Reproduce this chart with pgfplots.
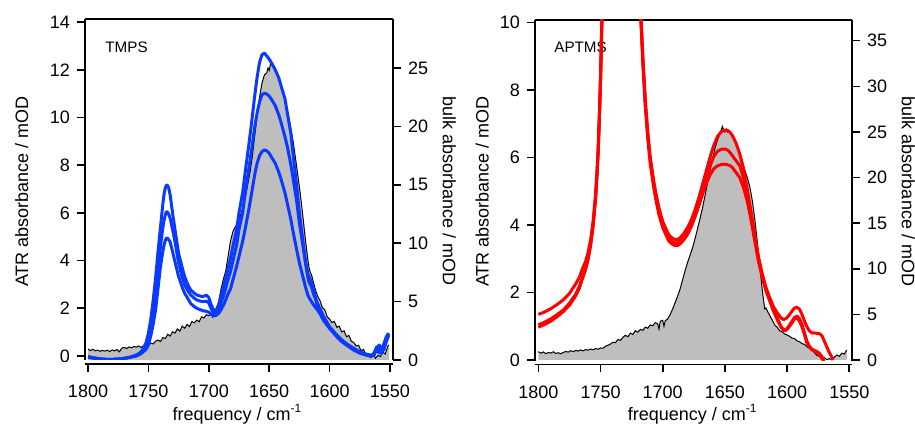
\documentclass[border=0pt]{standalone}
\usepackage{pgfplots}
\usepackage{pgfplotstable}
\pgfplotsset{compat=1.18}
\usepackage{fontspec}
\setmainfont{Liberation Sans}
\definecolor{tblue}{RGB}{10,58,255}
\definecolor{tred}{RGB}{255,0,0}
\definecolor{bulkgray}{RGB}{190,190,190}

% TMPS bulk spectrum (bulk absorbance / mOD)
\pgfplotstableread{
x y
1800 0.95
1798 0.80
1796 0.92
1794 0.78
1792 0.85
1790 0.74
1788 0.82
1786 0.76
1784 0.84
1782 0.72
1780 0.86
1778 0.78
1776 0.90
1774 0.70
1772 1.02
1770 1.08
1768 0.98
1766 1.12
1764 1.04
1762 1.16
1760 1.10
1758 1.20
1756 1.08
1754 1.22
1752 1.30
1750 1.26
1748 1.45
1746 1.38
1744 1.62
1742 1.70
1740 1.58
1738 1.92
1736 1.84
1734 2.20
1732 2.05
1730 2.42
1728 2.30
1726 2.66
1724 2.48
1722 2.90
1720 2.72
1718 3.05
1716 2.86
1714 3.30
1712 3.18
1710 3.42
1708 3.28
1706 3.70
1704 3.60
1702 3.88
1700 3.80
1698 3.95
1697 3.70
1696 4.10
1694 4.40
1692 4.90
1690 6.00
1688 6.90
1686 7.60
1684 8.90
1682 10.20
1680 11.00
1678 11.40
1676 11.80
1674 12.30
1672 13.00
1670 13.80
1668 14.90
1666 16.00
1664 17.40
1662 19.20
1660 20.90
1658 22.50
1656 23.70
1654 24.40
1652 24.60
1651 25.00
1650 24.80
1649 25.30
1648 25.50
1647 25.30
1646 25.20
1645 24.90
1644 24.60
1642 24.20
1640 23.50
1638 22.80
1636 21.90
1634 20.90
1632 19.80
1630 18.60
1628 17.10
1626 15.60
1624 14.00
1622 12.20
1620 10.30
1618 8.60
1617 7.90
1616 7.50
1615 7.30
1614 6.90
1612 6.10
1610 5.50
1608 5.10
1606 4.50
1604 4.30
1602 3.70
1600 3.50
1598 3.20
1596 3.30
1594 2.80
1592 2.90
1590 2.40
1588 2.50
1586 2.00
1584 2.10
1582 1.60
1580 1.50
1578 1.20
1576 1.25
1574 0.80
1572 0.90
1570 0.55
1568 0.40
1566 0.20
1564 0.50
1562 0.15
1560 0.40
1558 0.30
1556 0.70
1554 0.50
1552 1.10
1551 1.30
}\tmpsbulk

% TMPS ATR spectra (ATR absorbance / mOD)
\pgfplotstableread{
x b1 b2 b3
1800 -0.03 -0.03 -0.06
1795 -0.08 -0.08 -0.10
1790 -0.12 -0.12 -0.13
1785 -0.14 -0.14 -0.15
1780 -0.14 -0.14 -0.15
1775 -0.13 -0.13 -0.13
1770 -0.10 -0.10 -0.10
1765 -0.05 -0.05 -0.05
1760 0.04 0.02 0.00
1757 0.13 0.10 0.07
1755 0.25 0.18 0.14
1752 0.55 0.38 0.28
1750 0.95 0.67 0.46
1748 1.55 1.15 0.85
1746 2.35 1.80 1.35
1744 3.30 2.60 1.95
1742 4.40 3.55 2.85
1740 5.40 4.60 3.75
1738 6.40 5.40 4.40
1737 6.80 5.70 4.66
1736 7.05 5.92 4.85
1735 7.17 6.05 4.95
1734 7.15 6.02 4.93
1733 7.00 5.92 4.86
1732 6.75 5.78 4.78
1730 6.00 5.30 4.38
1728 5.30 4.80 3.95
1725 4.30 3.90 3.33
1722 3.70 3.30 2.88
1720 3.33 2.98 2.63
1717 2.95 2.70 2.38
1715 2.77 2.56 2.20
1712 2.63 2.42 2.07
1710 2.56 2.35 2.00
1707 2.51 2.30 1.94
1705 2.49 2.28 1.90
1702 2.55 2.30 1.87
1700 2.45 2.22 1.84
1698 2.14 1.98 1.75
1696 1.93 1.80 1.68
1694 1.90 1.80 1.70
1692 2.10 1.95 1.78
1690 2.50 2.20 1.93
1687 3.05 2.65 2.22
1685 3.47 3.05 2.49
1682 4.10 3.55 2.82
1680 4.60 4.00 3.19
1677 5.30 4.65 3.75
1675 6.00 5.30 4.17
1672 6.85 6.00 4.80
1670 7.66 6.80 5.30
1667 8.80 7.80 6.10
1665 9.60 8.50 6.69
1662 10.90 9.60 7.60
1660 11.70 10.20 8.08
1658 12.30 10.65 8.40
1656 12.63 10.95 8.57
1654 12.70 11.02 8.64
1652 12.58 10.98 8.60
1650 12.45 10.90 8.50
1648 12.28 10.75 8.33
1645 12.00 10.50 8.08
1642 11.65 10.10 7.70
1640 11.30 9.76 7.38
1637 10.80 9.20 6.85
1635 10.20 8.78 6.40
1632 9.30 8.00 5.70
1630 8.36 7.38 5.15
1627 7.00 6.40 4.40
1625 6.00 5.57 3.90
1622 4.80 4.60 3.30
1620 4.00 3.90 2.90
1618 3.45 3.30 2.55
1617 3.33 3.10 2.45
1615 3.10 2.90 2.28
1613 2.75 2.55 2.12
1610 2.07 2.20 1.93
1607 1.70 1.88 1.70
1605 1.50 1.65 1.50
1602 1.30 1.40 1.30
1600 1.16 1.23 1.16
1595 0.90 0.93 0.86
1590 0.67 0.67 0.60
1585 0.45 0.48 0.42
1580 0.25 0.32 0.25
1575 0.12 0.18 0.14
1570 0.04 0.08 0.06
1567 0.00 0.05 0.02
1565 0.00 0.04 0.00
1563 0.15 0.04 0.10
1561 0.38 0.30 0.30
1559 0.30 0.46 0.12
1557 0.10 0.35 0.20
1555 0.40 0.25 0.53
1553 0.80 0.60 0.80
1551 0.95 0.88 0.95
}\tmpsatr

% APTMS bulk spectrum (bulk absorbance / mOD)
\pgfplotstableread{
x y
1800 0.91
1798 0.75
1796 0.88
1794 0.70
1792 0.82
1790 0.76
1788 0.90
1786 0.72
1784 0.80
1782 0.68
1780 0.82
1778 0.94
1776 0.86
1774 1.02
1772 0.92
1770 1.05
1768 0.98
1766 1.10
1764 1.00
1762 1.14
1760 1.08
1758 1.20
1756 1.12
1754 1.25
1752 1.18
1750 1.32
1748 1.30
1746 1.50
1744 1.62
1742 1.75
1740 1.95
1738 1.90
1736 2.25
1734 2.15
1732 2.50
1730 2.70
1728 2.55
1726 2.95
1724 2.80
1722 3.20
1720 3.05
1718 3.35
1716 3.25
1714 3.60
1712 3.48
1710 3.85
1708 3.75
1706 4.10
1704 3.95
1703 3.40
1702 4.25
1700 4.35
1699 3.70
1698 4.30
1696 4.50
1694 5.00
1692 5.60
1690 6.30
1688 7.00
1686 7.80
1684 8.80
1682 9.80
1680 10.70
1678 11.50
1676 12.30
1674 13.30
1672 14.40
1670 15.50
1668 16.70
1666 18.00
1664 19.40
1662 20.80
1660 22.00
1658 23.20
1656 24.10
1654 24.80
1652 25.60
1651 25.20
1650 25.00
1649 25.30
1648 25.00
1647 25.20
1646 24.90
1644 24.60
1642 24.00
1640 23.40
1638 22.70
1636 21.80
1634 20.80
1632 20.00
1630 19.00
1628 17.50
1626 15.50
1624 13.00
1622 10.50
1620 7.70
1618 5.60
1617 5.70
1616 5.40
1614 4.90
1612 4.40
1610 3.84
1608 3.60
1606 3.20
1604 3.10
1602 2.85
1600 2.74
1598 2.60
1596 2.40
1594 2.35
1592 2.10
1590 2.00
1588 1.80
1586 1.70
1584 1.45
1582 1.30
1580 1.10
1578 0.80
1576 0.50
1574 0.40
1572 0.15
1570 0.25
1568 0.05
1566 0.15
1564 0.05
1562 0.30
1560 0.55
1558 0.40
1556 0.75
1554 0.65
1552 1.10
}\aptmsbulk

% APTMS ATR spectra (ATR absorbance / mOD)
\pgfplotstableread{
x r1 r2 r3
1800 1.35 1.04 0.97
1795 1.42 1.12 1.05
1790 1.52 1.22 1.15
1785 1.64 1.34 1.28
1780 1.78 1.48 1.43
1775 1.97 1.68 1.62
1770 2.25 1.95 1.90
1767 2.45 2.18 2.13
1765 2.66 2.40 2.36
1762 2.92 2.72 2.68
1760 3.18 3.02 2.98
1758 3.55 3.42 3.38
1756 4.10 4.00 3.96
1754 4.90 4.80 4.76
1753 5.50 5.40 5.36
1752 6.20 6.10 6.06
1751 7.20 7.10 7.05
1750 8.40 8.30 8.25
1749 10.00 9.90 9.85
1748 11.60 11.50 11.45
1720 11.80 11.70 11.60
1718 10.60 10.50 10.40
1716 9.00 8.90 8.80
1714 7.70 7.60 7.50
1712 6.75 6.65 6.55
1710 6.00 5.90 5.80
1707 5.25 5.15 5.05
1705 4.85 4.75 4.65
1703 4.50 4.40 4.30
1700 4.10 4.00 3.92
1697 3.85 3.75 3.67
1695 3.70 3.60 3.52
1692 3.60 3.50 3.42
1690 3.57 3.47 3.39
1688 3.57 3.47 3.39
1686 3.62 3.52 3.44
1683 3.75 3.65 3.56
1680 3.92 3.82 3.72
1677 4.15 4.05 3.95
1674 4.45 4.35 4.24
1671 4.80 4.68 4.56
1668 5.20 5.05 4.90
1665 5.60 5.42 5.22
1662 6.00 5.75 5.48
1659 6.35 6.02 5.66
1656 6.62 6.18 5.75
1653 6.76 6.24 5.79
1650 6.81 6.25 5.80
1648 6.80 6.22 5.78
1646 6.75 6.15 5.76
1644 6.65 6.05 5.70
1641 6.42 5.90 5.55
1638 6.10 5.75 5.40
1635 5.65 5.40 5.10
1632 5.05 4.90 4.70
1629 4.40 4.30 4.15
1626 3.70 3.62 3.52
1623 3.05 3.00 2.92
1620 2.55 2.50 2.45
1617 2.15 2.10 2.05
1614 1.85 1.80 1.75
1611 1.58 1.50 1.45
1608 1.40 1.25 1.20
1605 1.25 1.00 0.98
1603 1.20 0.90 0.88
1601 1.22 0.89 0.88
1599 1.30 0.98 0.95
1596 1.45 1.15 1.10
1594 1.54 1.26 1.22
1592 1.56 1.30 1.24
1590 1.50 1.22 1.15
1588 1.35 1.05 0.98
1586 1.15 0.80 0.75
1584 0.98 0.55 0.50
1582 0.86 0.40 0.38
1580 0.80 0.32 0.30
1578 0.80 0.28 0.26
1576 0.79 0.25 0.22
1574 0.78 0.20 0.15
1572 0.72 0.10 0.05
1570.5 0.60 0.00 -0.05
1568 0.38 nan nan
1566 0.22 nan nan
1564 0.08 nan nan
1563 0.00 nan nan
}\aptmsatr

\pgfplotsset{
  spec/.style={
    scale only axis,
    x dir=reverse, xmin=1547.5, xmax=1802.5,
    xtick={1550,1600,...,1800},
    tick align=outside, major tick length=4pt,
    tick style={black, line width=0.8pt},
    axis line style={black, line width=0.8pt},
    tick label style={font=\fontsize{9}{10}\selectfont},
    xticklabel style={yshift=-3pt},
    label style={font=\fontsize{9}{10}\selectfont},
    /pgf/number format/assume math mode=true,
    /pgf/number format/1000 sep={},
    minor tick num=0,
    unbounded coords=discard,
  },
  bulkline/.style={black, line width=0.5pt},
  bulkfill/.style={fill=bulkgray, draw=none},
  atr/.style={line width=1.5pt, line join=round},
}

\begin{document}
\begin{tikzpicture}
\useasboundingbox (0,0) rectangle (457.5pt,213.5pt);

% ---------- TMPS: bulk (right axis) ----------
\begin{axis}[spec, at={(42.5pt,33.5pt)}, anchor=south west,
  width=154pt, height=170.5pt,
  ymin=0, ymax=29.2, ytick={0,5,...,25},
  axis x line*=bottom, axis y line*=right, axis x line shift=2pt,
  xlabel={frequency / cm\textsuperscript{-1}},
  xlabel style={at={(axis description cs:0.495,-0.1774)}, anchor=base},
  ylabel={bulk absorbance / mOD},
  ylabel style={at={(axis description cs:1.1617,0.4956)}, anchor=base, rotate=180},
]
\addplot[bulkfill] table[x=x,y=y]{\tmpsbulk} \closedcycle;
\addplot[bulkline] table[x=x,y=y]{\tmpsbulk};
\node[anchor=base west, inner sep=0pt, font=\fontsize{7.6}{9}\selectfont]
  at (rel axis cs:0.065,0.9003) {TMPS};
\end{axis}

% ---------- TMPS: ATR (left axis) ----------
\begin{axis}[spec, at={(42.5pt,33.5pt)}, anchor=south west,
  width=154pt, height=170.5pt,
  ymin=-0.168, ymax=14.13, ytick={0,2,...,14},
  axis y line*=left, axis x line*=top, xtick=\empty,
  ylabel={ATR absorbance / mOD},
  ylabel style={at={(axis description cs:-0.185,0.494)}, anchor=base},
]
\addplot[atr, tblue] table[x=x,y=b3]{\tmpsatr};
\addplot[atr, tblue] table[x=x,y=b2]{\tmpsatr};
\addplot[atr, tblue] table[x=x,y=b1]{\tmpsatr};
\end{axis}

% ---------- APTMS: bulk (right axis) ----------
\begin{axis}[spec, at={(267.5pt,33pt)}, anchor=south west,
  width=158.5pt, height=170.5pt,
  xmin=1547.8, xmax=1802.7,
  ymin=-0.11, ymax=37.27, ytick={0,5,...,35},
  axis x line*=bottom, axis y line*=right, axis x line shift=1.7pt,
  xlabel={frequency / cm\textsuperscript{-1}},
  xlabel style={at={(axis description cs:0.4975,-0.1745)}, anchor=base},
  ylabel={bulk absorbance / mOD},
  ylabel style={at={(axis description cs:1.1577,0.497)}, anchor=base, rotate=180},
]
\addplot[bulkfill] table[x=x,y=y]{\aptmsbulk} \closedcycle;
\addplot[bulkline] table[x=x,y=y]{\aptmsbulk};
\node[anchor=base west, inner sep=0pt, font=\fontsize{7.6}{9}\selectfont]
  at (rel axis cs:0.06,0.9032) {APTMS};
\end{axis}

% ---------- APTMS: ATR (left axis) ----------
\begin{axis}[spec, at={(267.5pt,33pt)}, anchor=south west,
  width=158.5pt, height=170.5pt,
  xmin=1547.8, xmax=1802.7,
  ymin=-0.03, ymax=10.07, ytick={0,2,...,10},
  axis y line*=left, axis x line*=top, xtick=\empty,
  ylabel={ATR absorbance / mOD},
  ylabel style={at={(axis description cs:-0.1464,0.497)}, anchor=base},
]
\addplot[atr, tred] table[x=x,y=r3]{\aptmsatr};
\addplot[atr, tred] table[x=x,y=r2]{\aptmsatr};
\addplot[atr, tred] table[x=x,y=r1]{\aptmsatr};
\end{axis}
\end{tikzpicture}
\end{document}
